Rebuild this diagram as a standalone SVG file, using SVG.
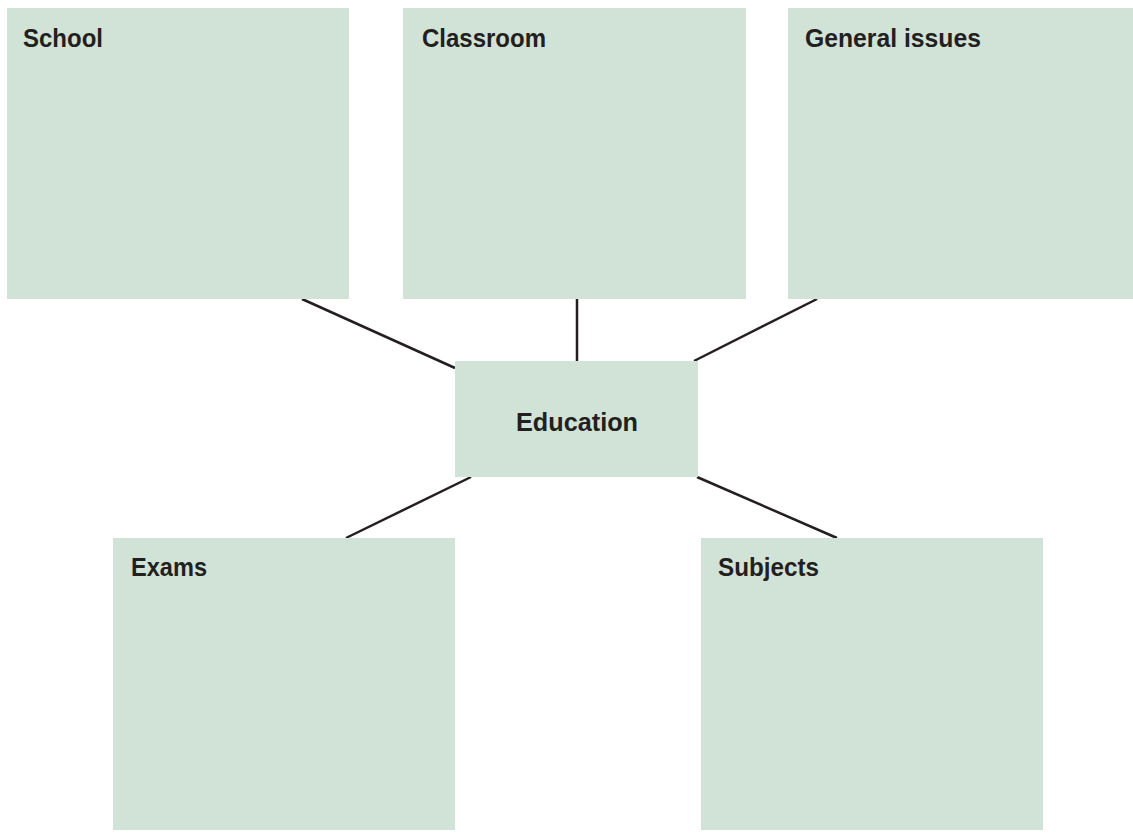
<svg xmlns="http://www.w3.org/2000/svg" width="1133" height="833" viewBox="0 0 1133 833">
<style>
.box{fill:#d1e3d6}
.lbl{font-family:"Liberation Sans",Arial,sans-serif;font-weight:bold;font-size:26px;fill:#231f20}
.con{stroke:#231f20;stroke-width:2.5;fill:none}
</style>
<rect width="1133" height="833" fill="#ffffff"/>
<g id="connectors">
<line class="con" x1="302" y1="299" x2="455" y2="368"/>
<line class="con" x1="577" y1="299" x2="577" y2="361"/>
<line class="con" x1="817" y1="299" x2="694" y2="361"/>
<line class="con" x1="471" y1="477" x2="346" y2="538"/>
<line class="con" x1="697" y1="477" x2="837" y2="538"/>
</g>
<g id="school"><rect class="box" x="7" y="8" width="342" height="291"/><text class="lbl" x="23" y="47" textLength="80" lengthAdjust="spacingAndGlyphs">School</text></g>
<g id="classroom"><rect class="box" x="403" y="8" width="343" height="291"/><text class="lbl" x="422" y="47" textLength="124" lengthAdjust="spacingAndGlyphs">Classroom</text></g>
<g id="general"><rect class="box" x="788" y="8" width="345" height="291"/><text class="lbl" x="805" y="47" textLength="176" lengthAdjust="spacingAndGlyphs">General issues</text></g>
<g id="education"><rect class="box" x="455" y="361" width="243" height="116"/><text class="lbl" x="516" y="431" textLength="122" lengthAdjust="spacingAndGlyphs">Education</text></g>
<g id="exams"><rect class="box" x="113" y="538" width="342" height="292"/><text class="lbl" x="131" y="576" textLength="76" lengthAdjust="spacingAndGlyphs">Exams</text></g>
<g id="subjects"><rect class="box" x="701" y="538" width="342" height="292"/><text class="lbl" x="718" y="576" textLength="101" lengthAdjust="spacingAndGlyphs">Subjects</text></g>
</svg>
